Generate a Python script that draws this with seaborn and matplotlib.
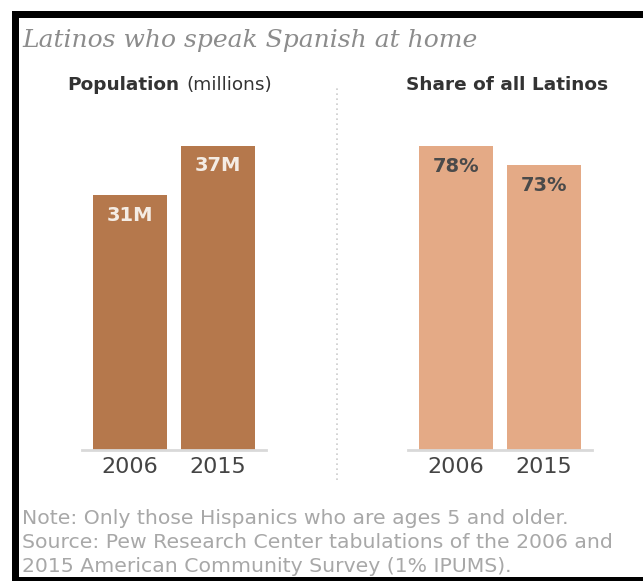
import matplotlib
matplotlib.use("Agg")
import matplotlib.pyplot as plt
import seaborn as sns
import pandas as pd
from matplotlib.patches import Rectangle
from matplotlib.lines import Line2D

years = ["2006", "2015"]
population = [31, 37]
pop_labels = ["31M", "37M"]
share = [78, 73]
share_labels = ["78%", "73%"]

title = "Latinos who speak Spanish at home"
notes = ["Note: Only those Hispanics who are ages 5 and older.",
         "Source: Pew Research Center tabulations of the 2006 and",
         "2015 American Community Survey (1% IPUMS)."]

sns.set_theme(style="white")
plt.rcParams['font.family'] = ['DejaVu Sans']

W, H = 643, 581
fig = plt.figure(figsize=(W / 100, H / 100), dpi=100)
fig.patch.set_facecolor("white")

def fx(px):
    return px / W

def fy(py):
    return 1 - py / H

pop_color = "#B5784C"
share_color = "#E4AA86"

panels = [
    (82, population, pop_labels, pop_color, "#F4ECE4"),
    (408, share, share_labels, share_color, "#4A4A4A"),
]
for left_px, vals, labs, col, tcol in panels:
    ax = fig.add_axes([fx(left_px), fy(450), 184 / W, 304 / H])
    df = pd.DataFrame({"year": years, "value": vals})
    sns.barplot(data=df, x="year", y="value", ax=ax, color=col,
                saturation=1, width=0.84, edgecolor="none")
    ax.set_xlim(-0.54, 1.54)
    ax.set_ylim(0, max(vals))
    for s in ["top", "right", "left"]:
        ax.spines[s].set_visible(False)
    ax.spines["bottom"].set_color("#D9D9D9")
    ax.spines["bottom"].set_linewidth(2)
    ax.set_yticks([])
    ax.set_xlabel("")
    ax.set_ylabel("")
    ax.tick_params(axis="x", length=0, pad=5, labelsize=16, labelcolor="#444444")
    ax.set_facecolor("none")
    for i, (v, l) in enumerate(zip(vals, labs)):
        ax.annotate(l, (i, v), xytext=(0, -20), textcoords="offset pixels",
                    ha="center", va="center", fontsize=14, fontweight="bold",
                    color=tcol)

# title
fig.text(fx(22), fy(40), title, fontsize=18, style="italic",
         family="DejaVu Serif", color="#8C8C8C", va="center", ha="left")

# subtitles
t1 = fig.text(fx(67), fy(85), "Population", fontsize=13.3, fontweight="bold",
              color="#333333", va="center", ha="left")
fig.canvas.draw()
bb = t1.get_window_extent()
fig.text(bb.x1 / W + fx(7), fy(85), "(millions)", fontsize=13.3,
         color="#333333", va="center", ha="left")
fig.text(fx(507), fy(85), "Share of all Latinos", fontsize=13.3,
         fontweight="bold", color="#333333", va="center", ha="center")

# divider
fig.add_artist(Line2D([fx(337), fx(337)], [fy(480), fy(85)], color="#CCCCCC",
                      linestyle=(0, (1, 2)), linewidth=1.2))

# notes
for i, n in enumerate(notes):
    fig.text(fx(22), fy(518 + 24 * i), n, fontsize=14.7, color="#A8A8A8",
             va="center", ha="left")

# black border
fig.add_artist(Rectangle((fx(12), fy(18)), 1 - fx(12), 7 / H,
                         transform=fig.transFigure, color="black", lw=0))
fig.add_artist(Rectangle((fx(12), 0), 7 / W, fy(11),
                         transform=fig.transFigure, color="black", lw=0))
fig.add_artist(Rectangle((fx(12), 0), 1 - fx(12), 4 / H,
                         transform=fig.transFigure, color="black", lw=0))

fig.savefig("out.png", dpi=100, facecolor="white")
